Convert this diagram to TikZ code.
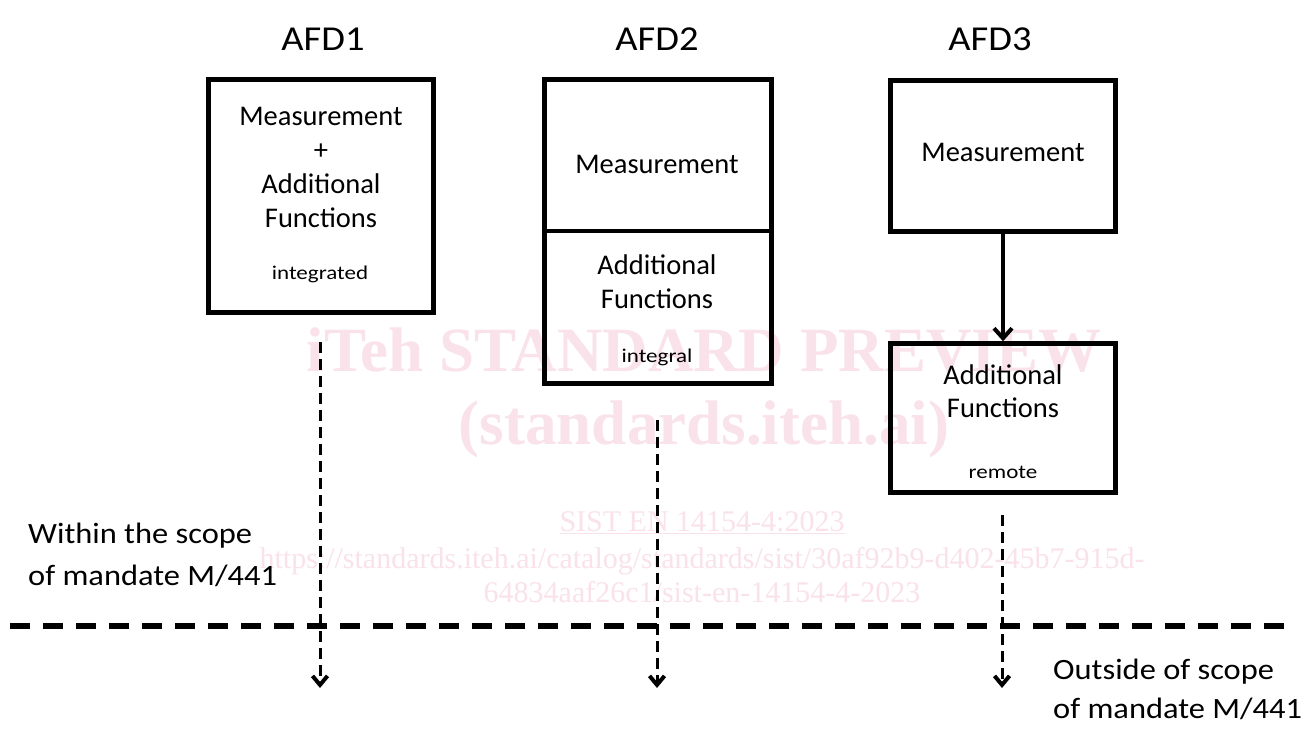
\documentclass[tikz,border=0pt]{standalone}
\usepackage{fontspec}
\setmainfont{Carlito}
\newfontfamily\widefont{Carlito}[FakeStretch=1.1]
\newfontfamily\widerfont{Carlito}[FakeStretch=1.18]
\newfontfamily\wmfont{Liberation Serif}
\usetikzlibrary{arrows.meta}
\definecolor{wm}{RGB}{250,226,234}
\tikzset{
  box/.style={draw, line width=4.5pt, inner sep=0pt},
  bigtxt/.style={font=\fontsize{28.5}{34}\selectfont, anchor=base, inner sep=0pt},
  smalltxt/.style={font=\widerfont\fontsize{19.5}{23}\selectfont, anchor=base, inner sep=0pt},
  titletxt/.style={font=\widefont\fontsize{35}{40}\selectfont, anchor=base, inner sep=0pt},
  scopetxt/.style={font=\widefont\fontsize{29.5}{40}\selectfont, anchor=base west, inner sep=0pt},
  darrow/.style={line width=3pt, dash pattern=on 11pt off 6pt, -{Straight Barb[length=9pt,width=15pt,line width=4pt]}},
  sarrow/.style={line width=4pt, -{Straight Barb[length=10pt,width=18pt,line width=4pt]}},
  hdash/.style={line width=6pt, dash pattern=on 20pt off 13pt},
  wmbig/.style={text=wm, anchor=base, inner sep=0pt, font=\wmfont\bfseries\fontsize{63}{70}\selectfont},
  wmsmall/.style={text=wm, anchor=base, inner sep=0pt, font=\wmfont\fontsize{30}{34}\selectfont}
}
\begin{document}
\begin{tikzpicture}[x=1pt,y=-1pt]
\useasboundingbox[fill=white] (0,0) rectangle (1308,733);

% watermark
\node[wmbig] (wm1) at (704,371) {iTeh STANDARD PREVIEW};
\node[wmbig] (wm2) at (704,444) {(standards.iteh.ai)};
\node[wmsmall] (wm3) at (702,531) {\underline{SIST EN 14154-4:2023}};
\node[wmsmall] (wm4) at (702,568) {https://standards.iteh.ai/catalog/standards/sist/30af92b9-d402-45b7-915d-};
\node[wmsmall] (wm5) at (702,602) {64834aaf26c1/sist-en-14154-4-2023};

% titles
\node[titletxt] (t1) at (323,51) {AFD1};
\node[titletxt] (t2) at (657,51) {AFD2};
\node[titletxt] (t3) at (990,51) {AFD3};

% boxes
\node[box, minimum width=225pt, minimum height=233pt] (b1) at (321,196) {};
\node[box, minimum width=227pt, minimum height=151.5pt] (b2t) at (658,155.25) {};
\node[box, minimum width=227pt, minimum height=152.5pt] (b2b) at (658,307.25) {};
\node[box, minimum width=225pt, minimum height=151pt] (b3t) at (1003,156) {};
\node[box, minimum width=225pt, minimum height=149pt] (b3b) at (1003,418) {};

% box texts
\node[bigtxt] (m1) at (321,125) {Measurement};
\node[bigtxt] (p1) at (321,159) {+};
\node[bigtxt] (a1) at (321,193) {Additional};
\node[bigtxt] (f1) at (321,227) {Functions};
\node[smalltxt] (i1) at (320,279) {integrated};

\node[bigtxt] (m2) at (657,173) {Measurement};
\node[bigtxt] (a2) at (657,274) {Additional};
\node[bigtxt] (f2) at (657,308) {Functions};
\node[smalltxt] (i2) at (657,362) {integral};

\node[bigtxt] (m3) at (1003,161) {Measurement};
\node[bigtxt] (a3) at (1003,384) {Additional};
\node[bigtxt] (f3) at (1003,417) {Functions};
\node[smalltxt] (i3) at (1003,478) {remote};

% solid arrow
\draw[sarrow] (b3t.south) -- (b3b.north);

% horizontal dashed line
\coordinate (hl) at (10,626);
\coordinate (hr) at (1288,626);
\draw[hdash] (hl) -- (hr);

% dashed arrows
\coordinate (s1) at (320,342);
\coordinate (e1) at (320,688);
\coordinate (s2) at (657,420);
\coordinate (e2) at (657,688);
\coordinate (s3) at (1002,515);
\coordinate (e3) at (1002,688);
\draw[darrow] (s1) -- (e1);
\draw[darrow] (s2) -- (e2);
\draw[darrow] (s3) -- (e3);

% scope labels
\node[scopetxt] (w1) at (28,543) {Within the scope};
\node[scopetxt] (w2) at (28,585) {of mandate M/441};
\node[scopetxt] (o1) at (1053,679) {Outside of scope};
\node[scopetxt] (o2) at (1053,718) {of mandate M/441};
\end{tikzpicture}
\end{document}
